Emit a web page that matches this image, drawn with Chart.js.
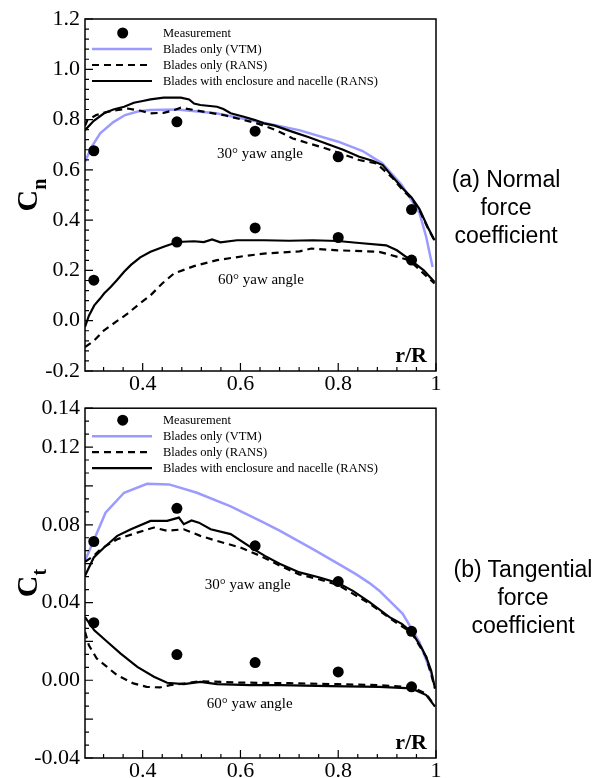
<!DOCTYPE html>
<html>
<head>
<meta charset="utf-8">
<script src="https://cdn.jsdelivr.net/npm/chart.js@4.4.1/dist/chart.umd.min.js"></script>
<style>
  html, body { margin: 0; padding: 0; background: #fff; }
  #wrap { position: relative; width: 597px; height: 778px; overflow: hidden; }
  canvas { position: absolute; left: 0; }
  #cnCanvas { top: 0; }
  #ctCanvas { top: 390px; }
  .side { position: absolute; font-family: 'Liberation Sans', Arial, sans-serif; font-size: 23px; line-height: 28px; text-align: center; color: #000; white-space: nowrap; }
</style>
</head>
<body>
<div id="wrap">
  <canvas id="cnCanvas" width="597" height="390"></canvas>
  <canvas id="ctCanvas" width="597" height="388"></canvas>
  <div class="side" style="left:446px; top:165px; width:120px;">(a) Normal<br>force<br>coefficient</div>
  <div class="side" style="left:443px; top:555px; width:160px;">(b) Tangential<br>force<br>coefficient</div>
</div>
<script>
// measurement stations (r/R)
const rMeas = [0.30, 0.47, 0.63, 0.80, 0.95];

// --- normal force coefficient Cn ---
const cnMeas30 = [0.676, 0.791, 0.754, 0.652, 0.442];
const cnMeas60 = [0.161, 0.313, 0.369, 0.331, 0.241];

const cnVtm30R = [0.282, 0.295, 0.313, 0.34, 0.364, 0.39, 0.415, 0.47, 0.55, 0.64, 0.72, 0.80, 0.85, 0.89, 0.93, 0.966, 0.980, 0.993];
const cnVtm30  = [0.632, 0.69, 0.745, 0.79, 0.818, 0.832, 0.838, 0.840, 0.825, 0.79, 0.758, 0.712, 0.675, 0.626, 0.54, 0.43, 0.333, 0.214];

const cnRans30R = [0.282, 0.287, 0.305, 0.328, 0.35, 0.369, 0.396, 0.416, 0.443, 0.465, 0.478, 0.505, 0.532, 0.566, 0.607, 0.634, 0.673, 0.707, 0.74, 0.775, 0.81, 0.843, 0.878, 0.91, 0.932, 0.95, 0.966, 0.983, 0.997];
const cnRans30  = [0.775, 0.798, 0.818, 0.831, 0.838, 0.844, 0.835, 0.825, 0.827, 0.838, 0.847, 0.838, 0.829, 0.818, 0.798, 0.785, 0.758, 0.725, 0.705, 0.685, 0.662, 0.639, 0.626, 0.57, 0.52, 0.485, 0.44, 0.37, 0.318];

const cnFull30R = [0.282, 0.30, 0.321, 0.34, 0.362, 0.382, 0.40, 0.416, 0.443, 0.478, 0.495, 0.505, 0.518, 0.552, 0.565, 0.58, 0.607, 0.63, 0.648, 0.67, 0.707, 0.74, 0.775, 0.81, 0.843, 0.87, 0.891, 0.91, 0.932, 0.95, 0.966, 0.983, 0.997];
const cnFull30  = [0.758, 0.795, 0.825, 0.840, 0.851, 0.867, 0.874, 0.880, 0.887, 0.887, 0.880, 0.864, 0.858, 0.851, 0.842, 0.825, 0.811, 0.798, 0.785, 0.776, 0.751, 0.73, 0.705, 0.68, 0.652, 0.636, 0.619, 0.575, 0.526, 0.49, 0.445, 0.373, 0.320];

const cnRans60R = [0.282, 0.30, 0.321, 0.345, 0.369, 0.39, 0.416, 0.44, 0.464, 0.505, 0.552, 0.607, 0.648, 0.721, 0.745, 0.799, 0.884, 0.945, 0.997];
const cnRans60  = [-0.105, -0.08, -0.038, -0.005, 0.028, 0.062, 0.101, 0.148, 0.188, 0.217, 0.241, 0.257, 0.267, 0.276, 0.287, 0.280, 0.274, 0.241, 0.148];

const cnFull60R = [0.282, 0.29, 0.301, 0.313, 0.321, 0.335, 0.348, 0.362, 0.376, 0.395, 0.416, 0.443, 0.471, 0.505, 0.525, 0.542, 0.559, 0.593, 0.648, 0.70, 0.748, 0.799, 0.843, 0.898, 0.92, 0.948, 0.975, 0.997];
const cnFull60  = [-0.025, 0.02, 0.061, 0.088, 0.108, 0.135, 0.163, 0.195, 0.222, 0.252, 0.274, 0.294, 0.313, 0.316, 0.313, 0.323, 0.312, 0.320, 0.320, 0.318, 0.320, 0.317, 0.309, 0.300, 0.28, 0.241, 0.20, 0.154];

// --- tangential force coefficient Ct ---
const ctMeas30 = [0.0714, 0.0885, 0.0692, 0.0508, 0.0252];
const ctMeas60 = [0.0296, 0.0132, 0.0091, 0.0043, -0.0034];

const ctVtm30R = [0.282, 0.30, 0.324, 0.362, 0.409, 0.454, 0.511, 0.580, 0.648, 0.681, 0.75, 0.803, 0.837, 0.864, 0.884, 0.932, 0.966, 0.993];
const ctVtm30  = [0.0615, 0.072, 0.0862, 0.0965, 0.1011, 0.1008, 0.0965, 0.0895, 0.0811, 0.0769, 0.0672, 0.0595, 0.0545, 0.050, 0.0461, 0.0342, 0.0197, 0.0018];

const ctRans30R = [0.282, 0.30, 0.314, 0.348, 0.389, 0.423, 0.45, 0.484, 0.518, 0.552, 0.60, 0.641, 0.68, 0.72, 0.76, 0.80, 0.864, 0.905, 0.95, 0.98, 0.998];
const ctRans30  = [0.061, 0.064, 0.0675, 0.0726, 0.0760, 0.0786, 0.0769, 0.0777, 0.0743, 0.0717, 0.0683, 0.064, 0.059, 0.0545, 0.052, 0.049, 0.0395, 0.032, 0.0245, 0.012, -0.0042];

const ctFull30R = [0.282, 0.30, 0.321, 0.348, 0.376, 0.416, 0.45, 0.474, 0.484, 0.50, 0.515, 0.539, 0.58, 0.627, 0.65, 0.68, 0.721, 0.76, 0.80, 0.83, 0.864, 0.905, 0.93, 0.95, 0.97, 0.98, 0.99, 0.998];
const ctFull30  = [0.0538, 0.0632, 0.0683, 0.0743, 0.0777, 0.0820, 0.0820, 0.0837, 0.0803, 0.0822, 0.0811, 0.0777, 0.0752, 0.0675, 0.064, 0.060, 0.0555, 0.053, 0.050, 0.046, 0.0402, 0.0325, 0.029, 0.0248, 0.017, 0.012, 0.005, -0.0042];

const ctRans60R = [0.282, 0.29, 0.306, 0.327, 0.347, 0.381, 0.408, 0.435, 0.456, 0.49, 0.517, 0.60, 0.70, 0.80, 0.88, 0.95, 0.98, 0.998];
const ctRans60  = [0.025, 0.018, 0.0112, 0.0069, 0.0027, -0.0016, -0.0034, -0.0037, -0.0025, -0.0015, -0.0005, -0.0012, -0.0015, -0.002, -0.0025, -0.0035, -0.007, -0.0133];

const ctFull60R = [0.282, 0.301, 0.328, 0.355, 0.389, 0.423, 0.45, 0.484, 0.518, 0.552, 0.62, 0.681, 0.783, 0.884, 0.95, 0.98, 0.998];
const ctFull60  = [0.0325, 0.0257, 0.0197, 0.0137, 0.0069, 0.0018, -0.0013, -0.0020, -0.0008, -0.002, -0.0025, -0.0025, -0.003, -0.0034, -0.0042, -0.0076, -0.0136];

// axes
const xTicks = [0.4, 0.6, 0.8, 1.0];
const xTickLabels = ['0.4', '0.6', '0.8', '1'];
const cnTicks = [-0.2, 0.0, 0.2, 0.4, 0.6, 0.8, 1.0, 1.2];
const cnTickLabels = ['-0.2', '0.0', '0.2', '0.4', '0.6', '0.8', '1.0', '1.2'];
const ctTicks = [-0.04, -0.02, 0.0, 0.02, 0.04, 0.06, 0.08, 0.10, 0.12, 0.14];
const ctTickLabels = ['-0.04', '', '0.00', '', '0.04', '', '0.08', '', '0.12', '0.14'];

const legendLabels = ['Measurement', 'Blades only (VTM)', 'Blades only (RANS)', 'Blades with enclosure and nacelle (RANS)'];
const yawLabels = ['30\u00b0 yaw angle', '60\u00b0 yaw angle'];

const palette = { ink: '#000000', vtm: '#9b9bff' };
const SERIF = "'Liberation Serif', 'Times New Roman', serif";
Chart.defaults.font.family = SERIF;
Chart.defaults.color = '#000';

function pts(xs, ys) {
  return xs.map(function (x, i) { return { x: x, y: ys[i] }; });
}

function steps(from, to, step) {
  const out = [];
  const n = Math.round((to - from) / step);
  for (let i = 0; i <= n; i++) out.push(from + i * step);
  return out;
}

// inward ticks, frame, legend, labels
const decor = {
  id: 'decor',
  afterDraw(chart, args, o) {
    const ctx = chart.ctx;
    const a = chart.chartArea;
    const sx = chart.scales.x, sy = chart.scales.y;
    ctx.save();
    ctx.strokeStyle = palette.ink;
    ctx.lineWidth = 1.2;
    ctx.beginPath();
    o.xMinor.forEach(function (v) { const p = sx.getPixelForValue(v); ctx.moveTo(p, a.bottom); ctx.lineTo(p, a.bottom - 4); });
    xTicks.forEach(function (v) { const p = sx.getPixelForValue(v); ctx.moveTo(p, a.bottom); ctx.lineTo(p, a.bottom - 8); });
    o.yMinor.forEach(function (v) { const p = sy.getPixelForValue(v); ctx.moveTo(a.left, p); ctx.lineTo(a.left + 4, p); });
    o.yMajor.forEach(function (v) { const p = sy.getPixelForValue(v); ctx.moveTo(a.left, p); ctx.lineTo(a.left + 8, p); });
    ctx.stroke();

    ctx.lineWidth = 1.5;
    ctx.strokeRect(a.left, a.top, a.right - a.left, a.bottom - a.top);

    // legend
    const ds = chart.data.datasets;
    const styles = [ds[0], ds[6], ds[4], ds[2]];
    ctx.font = '12.5px ' + SERIF;
    ctx.textBaseline = 'middle';
    ctx.fillStyle = palette.ink;
    legendLabels.forEach(function (label, i) {
      const y = a.top + o.legendTop + i * 16;
      const st = styles[i];
      if (i === 0) {
        ctx.beginPath();
        ctx.arc(a.left + 37.7, y, 5.5, 0, Math.PI * 2);
        ctx.fill();
      } else {
        ctx.save();
        ctx.strokeStyle = st.borderColor;
        ctx.lineWidth = st.borderWidth;
        ctx.setLineDash(st.borderDash || []);
        ctx.beginPath();
        ctx.moveTo(a.left + 7, y);
        ctx.lineTo(a.left + 67, y);
        ctx.stroke();
        ctx.restore();
      }
      ctx.fillText(label, a.left + 78, y + 1);
    });

    // yaw angle notes
    ctx.font = '15px ' + SERIF;
    ctx.textBaseline = 'alphabetic';
    o.notes.forEach(function (n, i) {
      ctx.fillText(yawLabels[i], sx.getPixelForValue(n[0]), sy.getPixelForValue(n[1]));
    });

    // r/R
    ctx.font = 'bold 22px ' + SERIF;
    ctx.textAlign = 'right';
    ctx.fillText('r/R', a.right - 9, a.bottom - 9);

    // rotated C with subscript
    ctx.save();
    ctx.translate(37, (a.top + a.bottom) / 2);
    ctx.rotate(-Math.PI / 2);
    ctx.textAlign = 'left';
    ctx.font = 'bold 30px ' + SERIF;
    const wC = ctx.measureText('C').width;
    ctx.font = 'bold 20px ' + SERIF;
    const wS = ctx.measureText(o.sub).width;
    const x0 = -(wC + wS) / 2;
    ctx.font = 'bold 30px ' + SERIF;
    ctx.fillText('C', x0, 0);
    ctx.font = 'bold 20px ' + SERIF;
    ctx.fillText(o.sub, x0 + wC, 9);
    ctx.restore();
    ctx.restore();
  }
};

function buildPanel(canvasId, d) {
  const canvas = document.getElementById(canvasId);
  const line = { showLine: true, pointRadius: 0, tension: 0, fill: false };
  return new Chart(canvas, {
    type: 'line',
    data: {
      datasets: [
        { label: 'Measurement 30', data: pts(rMeas, d.meas30), showLine: false, pointRadius: 5.5, pointBackgroundColor: palette.ink, pointBorderWidth: 0 },
        { label: 'Measurement 60', data: pts(rMeas, d.meas60), showLine: false, pointRadius: 5.5, pointBackgroundColor: palette.ink, pointBorderWidth: 0 },
        Object.assign({ label: 'Enclosure 30', data: pts(d.full30R, d.full30), borderColor: palette.ink, borderWidth: 2.2 }, line),
        Object.assign({ label: 'Enclosure 60', data: pts(d.full60R, d.full60), borderColor: palette.ink, borderWidth: 2.2 }, line),
        Object.assign({ label: 'RANS 30', data: pts(d.rans30R, d.rans30), borderColor: palette.ink, borderWidth: 2.2, borderDash: [7, 5] }, line),
        Object.assign({ label: 'RANS 60', data: pts(d.rans60R, d.rans60), borderColor: palette.ink, borderWidth: 2.2, borderDash: [7, 5] }, line),
        Object.assign({ label: 'VTM 30', data: pts(d.vtm30R, d.vtm30), borderColor: palette.vtm, borderWidth: 2.5 }, line),
      ],
    },
    options: {
      responsive: false,
      animation: false,
      events: [],
      layout: { padding: { left: 0, top: d.padTop, right: 161, bottom: 0 } },
      plugins: {
        legend: { display: false },
        tooltip: { enabled: false },
        decor: d.decor,
      },
      scales: {
        x: {
          type: 'linear', min: 0.282, max: 1,
          grid: { display: false, drawTicks: false },
          border: { display: false },
          afterBuildTicks: function (s) { s.ticks = xTicks.map(function (v) { return { value: v }; }); },
          afterFit: function (s) { s.height = d.xHeight; },
          ticks: {
            autoSkip: false, maxRotation: 0, padding: 0, color: palette.ink,
            font: { family: SERIF, size: 22 },
            callback: function (v, i) { return xTickLabels[i]; },
          },
        },
        y: {
          type: 'linear', min: d.yMin, max: d.yMax,
          grid: { display: false, drawTicks: false },
          border: { display: false },
          afterBuildTicks: function (s) { s.ticks = d.yTicks.map(function (v) { return { value: v }; }); },
          afterFit: function (s) { s.width = 85; },
          ticks: {
            autoSkip: false, padding: 5, color: palette.ink,
            font: { family: SERIF, size: 22 },
            callback: function (v, i) { return d.yLabels[i]; },
          },
        },
      },
    },
    plugins: [decor],
  });
}

buildPanel('cnCanvas', {
  meas30: cnMeas30, meas60: cnMeas60,
  vtm30R: cnVtm30R, vtm30: cnVtm30,
  rans30R: cnRans30R, rans30: cnRans30, rans60R: cnRans60R, rans60: cnRans60,
  full30R: cnFull30R, full30: cnFull30, full60R: cnFull60R, full60: cnFull60,
  yMin: -0.2, yMax: 1.2, yTicks: cnTicks, yLabels: cnTickLabels,
  padTop: 19, xHeight: 19,
  decor: {
    xMinor: steps(0.32, 0.96, 0.04),
    yMinor: steps(-0.2, 1.2, 0.04),
    yMajor: cnTicks,
    legendTop: 14,
    notes: [[0.552, 0.647], [0.554, 0.145]],
    sub: 'n',
  },
});

buildPanel('ctCanvas', {
  meas30: ctMeas30, meas60: ctMeas60,
  vtm30R: ctVtm30R, vtm30: ctVtm30,
  rans30R: ctRans30R, rans30: ctRans30, rans60R: ctRans60R, rans60: ctRans60,
  full30R: ctFull30R, full30: ctFull30, full60R: ctFull60R, full60: ctFull60,
  yMin: -0.04, yMax: 0.14, yTicks: ctTicks, yLabels: ctTickLabels,
  padTop: 17, xHeight: 20,
  decor: {
    xMinor: steps(0.32, 0.96, 0.04),
    yMinor: steps(-0.04, 0.14, 0.02 / 3),
    yMajor: ctTicks,
    legendTop: 12,
    notes: [[0.527, 0.0472], [0.531, -0.0143]],
    sub: 't',
  },
});
</script>
</body>
</html>
